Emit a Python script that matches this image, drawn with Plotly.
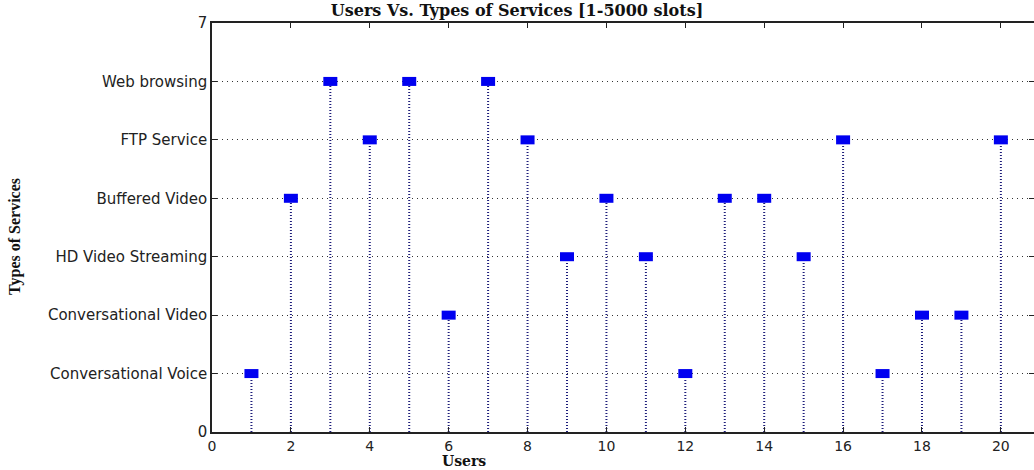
import plotly.graph_objects as go

users = list(range(1, 21))
service_level = [1, 4, 6, 5, 6, 2, 6, 5, 3, 4, 3, 1, 4, 4, 3, 5, 1, 2, 2, 5]
y_tick_vals = [0, 1, 2, 3, 4, 5, 6, 7]
y_tick_text = ["0", "Conversational Voice", "Conversational Video", "HD Video Streaming",
               "Buffered Video", "FTP Service", "Web browsing", "7"]
x_tick_vals = [0, 2, 4, 6, 8, 10, 12, 14, 16, 18, 20]

stem_x, stem_y = [], []
for u, v in zip(users, service_level):
    stem_x += [u, u, None]
    stem_y += [0, v, None]

fig = go.Figure()
fig.add_trace(go.Scatter(x=stem_x, y=stem_y, mode="lines",
                         line=dict(color="#1c1c7a", width=2, dash="1px,2px"),
                         hoverinfo="skip", showlegend=False))
fig.add_trace(go.Scatter(x=users, y=service_level, mode="markers",
                         marker=dict(symbol="line-ew", size=10,
                                     line=dict(color="#0000f0", width=9)),
                         showlegend=False))

y_tick_font = dict(family="DejaVu Sans", size=15, color="#222222")
x_tick_font = dict(family="DejaVu Sans", size=14, color="#222222")
fig.update_layout(
    width=1034, height=470,
    margin=dict(l=212, r=0, t=23, b=38),
    paper_bgcolor="white", plot_bgcolor="white",
    title=dict(text="<b>Users Vs. Types of Services [1-5000 slots]</b>",
               font=dict(family="DejaVu Serif", size=16, color="#111111"),
               x=0.5, xanchor="center", xref="container",
               y=1 - 10 / 470, yanchor="middle", yref="container"),
    xaxis=dict(range=[0, 20.84], tickvals=x_tick_vals, ticks="inside", ticklen=5,
               tickcolor="#222", showline=True, linecolor="#222", linewidth=1.5,
               mirror="ticks", showgrid=False, zeroline=False, tickfont=x_tick_font,
               automargin=False, ticklabelstandoff=0),
    yaxis=dict(range=[0, 7], tickvals=y_tick_vals, ticktext=y_tick_text,
               ticks="inside", ticklen=5, tickcolor="#222", showline=True,
               linecolor="#222", linewidth=1.5, mirror="ticks",
               showgrid=True, gridcolor="#333333", griddash="1px,4px", gridwidth=1,
               zeroline=False, tickfont=y_tick_font, automargin=False),
    annotations=[
        dict(text="<b>Types of Services</b>", textangle=-90,
             xref="paper", yref="paper", x=(15 - 212) / 822, y=1 - (237 - 23) / 409,
             xanchor="center", yanchor="middle", showarrow=False,
             font=dict(family="Liberation Serif", size=16, color="#111")),
        dict(text="<b>Users</b>", xref="paper", yref="paper",
             x=(464 - 212) / 822, y=-(461 - 432) / 409,
             xanchor="center", yanchor="middle", showarrow=False,
             font=dict(family="DejaVu Serif", size=14, color="#111")),
    ],
)

fig.write_html("out.html", config={"displayModeBar": False},
               post_script="document.body.style.margin='0px';")
